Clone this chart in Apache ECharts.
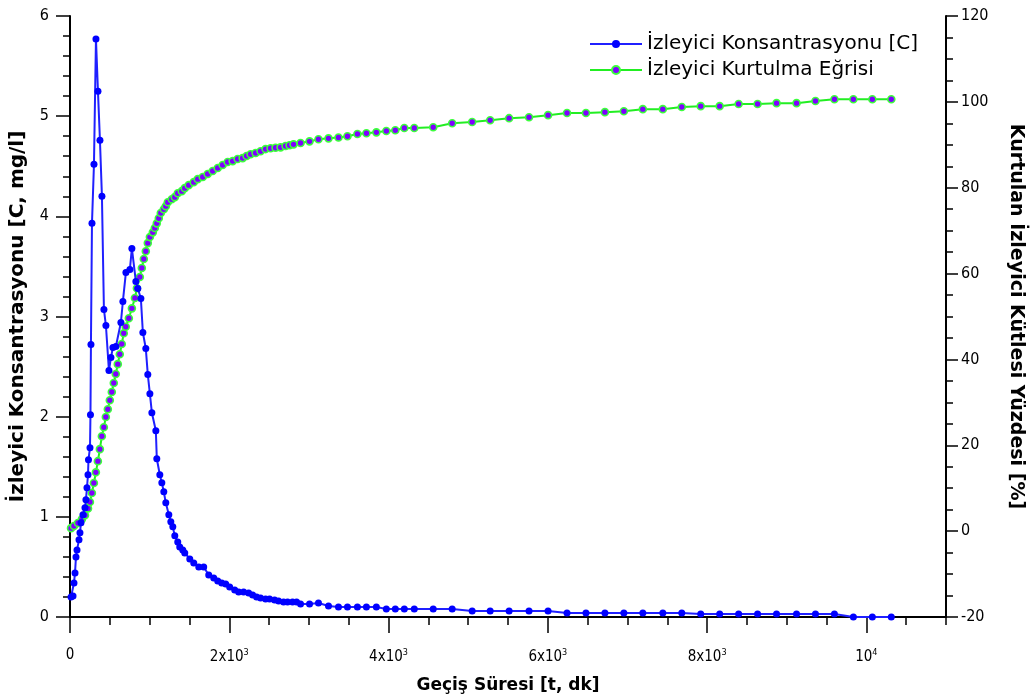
<!DOCTYPE html>
<html>
<head>
<meta charset="utf-8">
<script src="https://cdn.jsdelivr.net/npm/echarts@6/dist/echarts.min.js"></script>
<style>
html,body{margin:0;padding:0;background:#fff;}
#chart{width:1033px;height:699px;}
</style>
</head>
<body>
<div id="chart"></div>
<script>
// Tracer concentration (left axis)
const concTime = [13, 38, 50, 63, 75, 88, 113, 125, 138, 163, 188, 200, 213, 226, 232, 251, 257, 263, 276, 301, 326, 351, 376, 401, 426, 451, 489, 514, 539, 576, 639, 664, 702, 752, 777, 827, 852, 890, 915, 952, 977, 1003, 1028, 1078, 1090, 1128, 1153, 1178, 1203, 1241, 1266, 1291, 1316, 1353, 1378, 1416, 1441, 1504, 1554, 1617, 1679, 1742, 1805, 1855, 1905, 1955, 2005, 2068, 2118, 2180, 2243, 2293, 2343, 2393, 2456, 2506, 2569, 2619, 2682, 2732, 2794, 2845, 2895, 3008, 3120, 3246, 3371, 3484, 3609, 3722, 3847, 3972, 4085, 4198, 4323, 4561, 4799, 5050, 5276, 5514, 5764, 6003, 6241, 6479, 6717, 6955, 7193, 7444, 7682, 7920, 8158, 8396, 8634, 8872, 9123, 9361, 9599, 9837, 10075, 10313];
const concValue = [0.20, 0.21, 0.34, 0.44, 0.60, 0.67, 0.77, 0.84, 0.94, 1.02, 1.09, 1.17, 1.29, 1.42, 1.57, 1.69, 2.02, 2.72, 3.93, 4.52, 5.77, 5.25, 4.76, 4.20, 3.07, 2.91, 2.46, 2.59, 2.69, 2.70, 2.94, 3.15, 3.44, 3.47, 3.68, 3.35, 3.28, 3.18, 2.84, 2.68, 2.42, 2.23, 2.04, 1.86, 1.58, 1.42, 1.34, 1.25, 1.14, 1.02, 0.95, 0.90, 0.81, 0.75, 0.70, 0.67, 0.64, 0.58, 0.54, 0.50, 0.50, 0.42, 0.39, 0.36, 0.34, 0.33, 0.30, 0.27, 0.25, 0.25, 0.24, 0.22, 0.20, 0.19, 0.18, 0.18, 0.17, 0.16, 0.15, 0.15, 0.15, 0.15, 0.13, 0.13, 0.14, 0.11, 0.10, 0.10, 0.10, 0.10, 0.10, 0.08, 0.08, 0.08, 0.08, 0.08, 0.08, 0.06, 0.06, 0.06, 0.06, 0.06, 0.04, 0.04, 0.04, 0.04, 0.04, 0.04, 0.04, 0.03, 0.03, 0.03, 0.03, 0.03, 0.03, 0.03, 0.03, 0.00, 0.00, 0.00];

// Tracer recovery curve (right axis, %)
const recTime = [13, 50, 100, 150, 188, 226, 250, 275, 300, 325, 350, 375, 400, 425, 450, 475, 500, 525, 550, 575, 600, 625, 650, 675, 700, 739, 777, 815, 840, 877, 902, 927, 952, 977, 1003, 1040, 1065, 1090, 1115, 1140, 1178, 1203, 1228, 1278, 1316, 1353, 1404, 1441, 1491, 1554, 1604, 1667, 1729, 1792, 1855, 1917, 1980, 2043, 2105, 2168, 2218, 2268, 2331, 2393, 2456, 2519, 2581, 2644, 2707, 2757, 2807, 2895, 3008, 3120, 3246, 3371, 3484, 3609, 3722, 3847, 3972, 4085, 4198, 4323, 4561, 4799, 5050, 5276, 5514, 5764, 6003, 6241, 6479, 6717, 6955, 7193, 7444, 7682, 7920, 8158, 8396, 8634, 8872, 9123, 9361, 9599, 9837, 10075, 10313];
const recValue = [0.7, 1.2, 1.9, 2.8, 3.7, 5.3, 6.8, 8.9, 11.2, 13.7, 16.3, 19.1, 22.1, 24.2, 26.6, 28.4, 30.5, 32.4, 34.5, 36.6, 38.9, 41.2, 43.6, 46.1, 47.6, 49.6, 51.9, 54.3, 56.6, 59.2, 61.3, 63.4, 65.2, 67.1, 68.5, 69.6, 70.6, 71.7, 72.9, 74.1, 75.0, 75.7, 76.6, 77.3, 77.8, 78.7, 79.2, 79.9, 80.6, 81.3, 82.0, 82.5, 83.2, 83.9, 84.6, 85.3, 86.0, 86.2, 86.7, 86.9, 87.4, 87.8, 88.1, 88.5, 89.0, 89.2, 89.3, 89.4, 89.7, 89.9, 90.1, 90.4, 90.8, 91.3, 91.5, 91.7, 92.0, 92.5, 92.7, 92.9, 93.2, 93.4, 93.9, 93.9, 94.1, 95.0, 95.3, 95.7, 96.2, 96.4, 96.9, 97.4, 97.4, 97.6, 97.8, 98.3, 98.3, 98.8, 99.0, 99.0, 99.5, 99.5, 99.7, 99.7, 100.2, 100.6, 100.6, 100.6, 100.6];

const seriesNames = ['İzleyici Konsantrasyonu [C]', 'İzleyici Kurtulma Eğrisi'];
const axisNames = {
  x: 'Geçiş Süresi [t, dk]',
  yLeft: 'İzleyici Konsantrasyonu [C, mg/l]',
  yRight: 'Kurtulan İzleyici Kütlesi Yüzdesi [%]'
};
const xMajorTicks = [0, 2000, 4000, 6000, 8000, 10000];
const xMajorLabels = ['0', '{m|2x10}{s|3}', '{m|4x10}{s|3}', '{m|6x10}{s|3}', '{m|8x10}{s|3}', '{m|10}{s|4}'];
const xMinorTicks = [500, 1000, 1500, 2500, 3000, 3500, 4500, 5000, 5500, 6500, 7000, 7500, 8500, 9000, 9500, 10500, 11000];

const tickFont = '"DejaVu Sans Condensed", "Liberation Sans Narrow", "DejaVu Sans", sans-serif';
const nameFont = '"DejaVu Sans", sans-serif';

const chart = echarts.init(document.getElementById('chart'), null, {renderer: 'canvas'});
const blk = '#000';

chart.setOption({
  animation: false,
  backgroundColor: '#fff',
  grid: {left: 69, right: 87, top: 16, bottom: 82, containLabel: false},
  legend: {
    data: seriesNames,
    orient: 'vertical',
    left: 584,
    top: 29,
    itemWidth: 52,
    itemHeight: 10,
    itemGap: 6,
    textStyle: {fontFamily: '"DejaVu Sans", sans-serif', fontSize: 20, color: '#000'}
  },
  xAxis: [{
    type: 'value', min: 0, max: 11000,
    axisLine: {show: true, onZero: false, lineStyle: {color: blk, width: 2}},
    axisTick: {show: true, customValues: xMajorTicks, length: 16, lineStyle: {color: blk, width: 1.5}},
    axisLabel: {
      customValues: xMajorTicks,
      margin: 31,
      color: blk,
      fontFamily: tickFont,
      fontSize: 15,
      formatter: function (v) { const i = xMajorTicks.indexOf(v); return i >= 0 ? xMajorLabels[i] : ''; },
      rich: {
        m: {fontFamily: tickFont, fontSize: 15, color: blk},
        s: {fontFamily: tickFont, fontSize: 9, color: blk, padding: [0, 0, 9, 0]}
      }
    },
    splitLine: {show: false},
    name: axisNames.x, nameLocation: 'middle', nameGap: 60,
    nameTextStyle: {fontFamily: nameFont, fontWeight: 'bold', fontSize: 17, color: blk}
  }, {
    type: 'value', min: 0, max: 11000, position: 'bottom',
    axisLine: {show: false},
    axisTick: {show: true, customValues: xMinorTicks, length: 8, lineStyle: {color: blk, width: 1.5}},
    axisLabel: {show: false},
    splitLine: {show: false}
  }],
  yAxis: [{
    type: 'value', min: 0, max: 6, interval: 1, position: 'left',
    axisLine: {show: true, onZero: false, lineStyle: {color: blk, width: 2}},
    axisTick: {show: true, length: 14, lineStyle: {color: blk, width: 1.5}},
    minorTick: {show: true, splitNumber: 5, length: 7, lineStyle: {color: blk, width: 1.5}},
    axisLabel: {color: blk, fontFamily: tickFont, fontSize: 16, margin: 21},
    splitLine: {show: false},
    name: axisNames.yLeft, nameLocation: 'middle', nameGap: 42,
    nameTextStyle: {fontFamily: nameFont, fontWeight: 'bold', fontSize: 20, color: blk}
  }, {
    type: 'value', min: -20, max: 120, interval: 20, position: 'right',
    axisLine: {show: true, onZero: false, lineStyle: {color: blk, width: 2}},
    axisTick: {show: true, length: 12, lineStyle: {color: blk, width: 1.5}},
    minorTick: {show: true, splitNumber: 4, length: 7, lineStyle: {color: blk, width: 1.5}},
    axisLabel: {color: blk, fontFamily: tickFont, fontSize: 16, margin: 15},
    splitLine: {show: false},
    name: axisNames.yRight, nameLocation: 'middle', nameGap: 60, nameRotate: -90,
    nameTextStyle: {fontFamily: nameFont, fontWeight: 'bold', fontSize: 19, color: blk}
  }],
  series: [{
    name: seriesNames[1],
    type: 'line',
    xAxisIndex: 0, yAxisIndex: 1,
    data: recTime.map((t, i) => [t, recValue[i]]),
    symbol: 'circle', symbolSize: 7,
    itemStyle: {color: '#7f00ff', borderColor: '#3cff3c', borderWidth: 1.6},
    lineStyle: {color: '#22ee22', width: 2},
    z: 2
  }, {
    name: seriesNames[0],
    type: 'line',
    xAxisIndex: 0, yAxisIndex: 0,
    data: concTime.map((t, i) => [t, concValue[i]]),
    symbol: 'circle', symbolSize: 7,
    itemStyle: {color: '#0000ff', borderWidth: 0},
    lineStyle: {color: '#2020ff', width: 2},
    z: 3
  }]
});
</script>
</body>
</html>
